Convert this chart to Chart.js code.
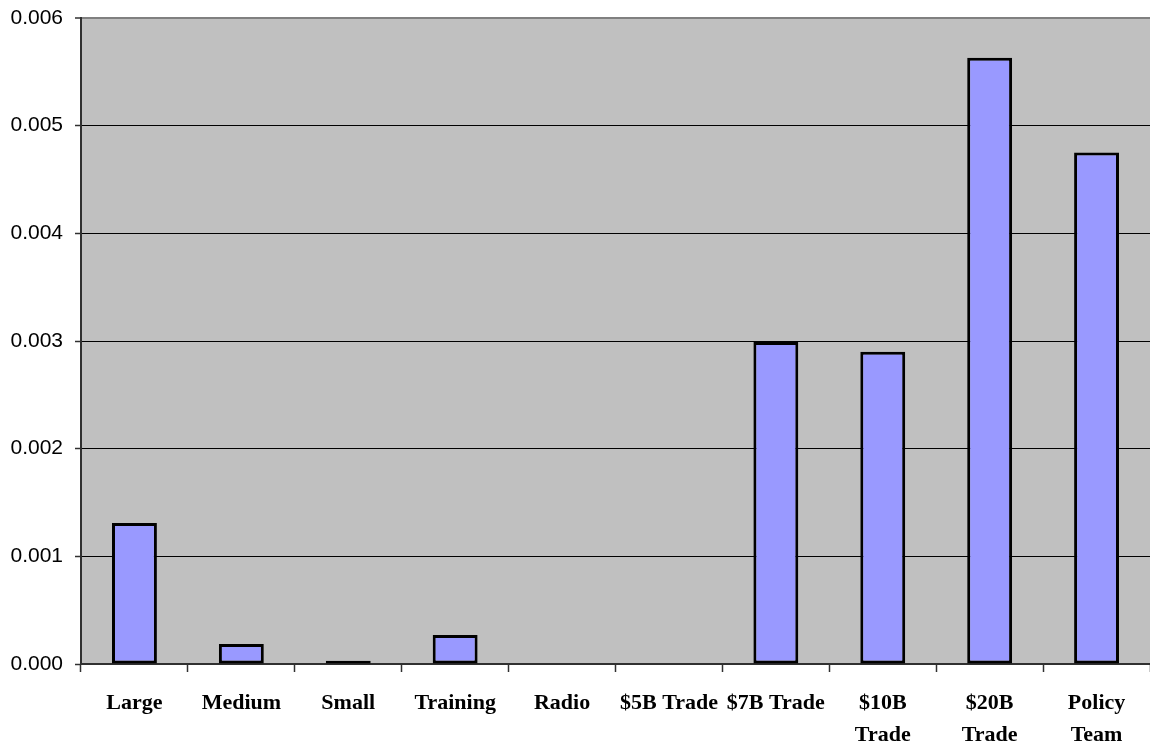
<!DOCTYPE html>
<html>
<head>
<meta charset="utf-8">
<script src="https://cdn.jsdelivr.net/npm/chart.js@4/dist/chart.umd.min.js"></script>
<style>
    body { margin: 0; background: #fff; }
    #wrap { width: 1150px; height: 744px; }
</style>
</head>
<body>
<div id="wrap"><canvas id="bar-chart"></canvas></div>
<script>
//-- Data//
const categories = [
    'Large',
    'Medium',
    'Small',
    'Training',
    'Radio',
    '$5B Trade',
    '$7B Trade',
    ['$10B', 'Trade'],
    ['$20B', 'Trade'],
    ['Policy', 'Team']
];
const values = [0.00131, 0.000185, 0.00003, 0.00027, 0, 0, 0.00299, 0.0029, 0.00563, 0.00475];
const yTicks = [0, 0.001, 0.002, 0.003, 0.004, 0.005, 0.006];

//-- Grey plot background//
const plotBackground = {
    id: 'plotBackground',
    beforeDraw(chart) {
        const { ctx, chartArea } = chart;
        ctx.save();
        ctx.fillStyle = '#c0c0c0';
        ctx.fillRect(chartArea.left, chartArea.top, chartArea.width, chartArea.height);
        ctx.restore();
    }
};

const ctx = document.getElementById('bar-chart');

new Chart(ctx, {
    type: 'bar',
    data: {
        labels: categories,
        datasets: [
            {
                data: values,
                backgroundColor: '#9999ff',
                borderColor: '#000000',
                borderWidth: 3,
                borderSkipped: false,
                barPercentage: 0.42,
                categoryPercentage: 1
            }
        ]
    },
    options: {
        responsive: true,
        maintainAspectRatio: false,
        animation: false,
        layout: { padding: { top: 18, right: 0, left: 0, bottom: 0 } },
        plugins: {
            legend: { display: false },
            tooltip: { enabled: false }
        },
        scales: {
            x: {
                offset: true,
                afterFit: scale => {
                    scale.height = 80;
                    scale.paddingLeft = 0;
                    scale.paddingRight = 0;
                },
                grid: {
                    offset: true,
                    drawOnChartArea: false,
                    tickLength: 8,
                    tickColor: '#303030',
                    tickWidth: 1.5
                },
                border: { color: '#303030', width: 2 },
                ticks: {
                    color: '#000',
                    padding: 15,
                    maxRotation: 0,
                    autoSkip: false,
                    font: { family: '"Liberation Serif", "Times New Roman", serif', size: 22, weight: 'bold', lineHeight: 1.45 }
                }
            },
            y: {
                min: 0,
                max: 0.006,
                afterFit: scale => {
                    scale.width = 81;
                    scale.paddingTop = 0;
                    scale.paddingBottom = 0;
                },
                afterBuildTicks: scale => {
                    scale.ticks = yTicks.map(v => ({ value: v }));
                },
                grid: {
                    color: c => (c.tick && c.tick.value === 0.006 ? '#808080' : '#000000'),
                    lineWidth: c => (c.tick && c.tick.value === 0.006 ? 2 : 1),
                    tickLength: 6,
                    tickColor: '#303030',
                    tickWidth: 1.5
                },
                border: { color: '#303030', width: 2 },
                ticks: {
                    color: '#000',
                    padding: 12,
                    font: { family: '"Liberation Sans", Arial, sans-serif', size: 21 },
                    callback: v => Number(v).toFixed(3)
                }
            }
        }
    },
    plugins: [plotBackground]
});
</script>
</body>
</html>
